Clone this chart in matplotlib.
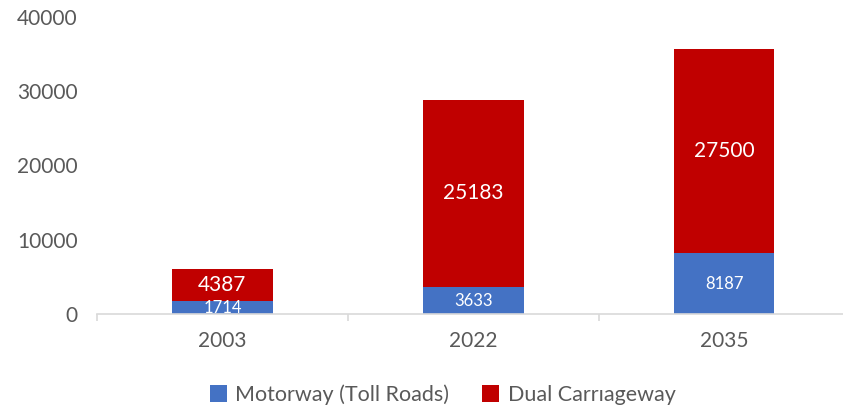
import matplotlib.pyplot as plt

plt.rcParams['font.family'] = ['Lato', 'DejaVu Sans']

years = ['2003', '2022', '2035']
motorway = [1714, 3633, 8187]
dual = [4387, 25183, 27500]
labels = ['Motorway (Toll Roads)', 'Dual Carrıageway']

blue = '#4472C4'
red = '#C00000'
grey = '#595959'

fig = plt.figure(figsize=(8.43, 4.11), dpi=100)
ax = fig.add_axes([0.115, 0.236, 0.893, 0.723])

x = range(len(years))
b1 = ax.bar(x, motorway, width=0.4, color=blue, label=labels[0])
b2 = ax.bar(x, dual, width=0.4, bottom=motorway, color=red, label=labels[1])

for i in x:
    ax.text(i, motorway[i] / 2, str(motorway[i]), ha='center', va='center',
            color='white', fontsize=12)
    ax.text(i, motorway[i] + dual[i] / 2, str(dual[i]), ha='center', va='center',
            color='white', fontsize=15)

ax.set_xlim(-0.5, 2.5)
ax.set_ylim(0, 40000)
ax.set_yticks([0, 10000, 20000, 30000, 40000])
ax.set_xticks(list(x))
ax.set_xticklabels(years)
ax.set_xticks([-0.5, 0.5, 1.5, 2.5], minor=True)

for s in ['top', 'right', 'left']:
    ax.spines[s].set_visible(False)
ax.spines['bottom'].set_color('#d9d9d9')
ax.spines['bottom'].set_linewidth(1.2)

ax.tick_params(axis='y', length=0, labelsize=15, labelcolor=grey, pad=14)
ax.tick_params(axis='x', which='major', length=0, labelsize=15, labelcolor=grey, pad=12)
ax.tick_params(axis='x', which='minor', length=5, color='#d9d9d9', width=1.2)

fig.legend(handles=[b1, b2], loc='center', bbox_to_anchor=(0.525, 0.04), ncol=2,
           frameon=False, fontsize=15.5, labelcolor=grey, handlelength=0.8,
           handleheight=0.8, handletextpad=0.4, columnspacing=1.5)

fig.savefig('out.png', dpi=100)
